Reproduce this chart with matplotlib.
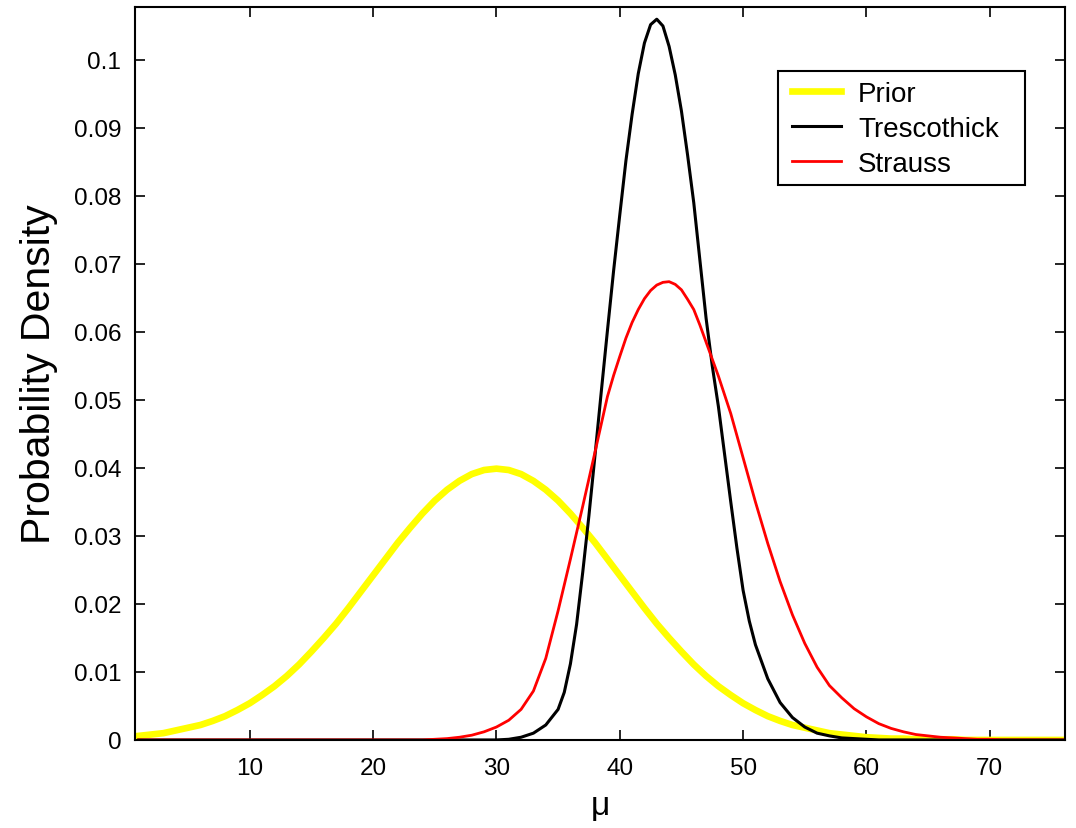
import numpy as np
import matplotlib
matplotlib.use("Agg")
import matplotlib.pyplot as plt
from matplotlib.patches import Rectangle

plt.rcParams["font.family"] = ["Liberation Sans", "DejaVu Sans"]

# --- data ----------------------------------------------------------------------
# prior: mu = 1..76
mu_prior = np.arange(1, 77)
prior = [0.0006, 0.0008, 0.0010, 0.0014, 0.0018, 0.0022, 0.0028, 0.0035, 0.0044, 0.0054,
         0.0066, 0.0079, 0.0094, 0.0111, 0.0130, 0.0150, 0.0171, 0.0194, 0.0218, 0.0242,
         0.0266, 0.0290, 0.0312, 0.0333, 0.0352, 0.0368, 0.0381, 0.0391, 0.0397, 0.0399,
         0.0397, 0.0391, 0.0381, 0.0368, 0.0352, 0.0333, 0.0312, 0.0290, 0.0266, 0.0242,
         0.0218, 0.0194, 0.0171, 0.0150, 0.0130, 0.0111, 0.0094, 0.0079, 0.0066, 0.0054,
         0.0044, 0.0035, 0.0028, 0.0022, 0.0018, 0.0014, 0.0010, 0.0008, 0.0006, 0.0004,
         0.0003, 0.0002, 0.0002, 0.0001, 0.0001, 0.0001, 0.0001, 0.0, 0.0, 0.0,
         0.0, 0.0, 0.0, 0.0, 0.0, 0.0]

# Trescothick: finer readings (every 0.5) around the peak
mu_tres = np.concatenate([np.arange(1, 36), np.arange(35.5, 51.5, 0.5), np.arange(52, 77)])
trescothick = [0.0] * 30 + [0.0001, 0.0004, 0.0010, 0.0022, 0.0045,
         0.0070, 0.0112, 0.0170, 0.0247, 0.0330, 0.0420, 0.0512, 0.0602, 0.0690, 0.0772,
         0.0852, 0.0920, 0.0980, 0.1025, 0.1052, 0.1060, 0.1050, 0.1020, 0.0978, 0.0925,
         0.0860, 0.0790, 0.0705, 0.0620, 0.0550, 0.0490, 0.0420, 0.0350, 0.0282, 0.0220,
         0.0175, 0.0140,
         0.0090, 0.0055, 0.0033, 0.0019, 0.0010, 0.0006, 0.0003, 0.0002, 0.0001,
         0.0, 0.0, 0.0, 0.0, 0.0, 0.0, 0.0, 0.0, 0.0, 0.0, 0.0, 0.0, 0.0, 0.0, 0.0, 0.0]

# Strauss: finer readings (every 0.5) around the peak
mu_str = np.concatenate([np.arange(1, 40), np.arange(39.5, 48.5, 0.5), np.arange(49, 77)])
strauss = [0.0] * 24 + [0.0001, 0.0002, 0.0004, 0.0007, 0.0012, 0.0019,
         0.0029, 0.0045, 0.0072, 0.0120, 0.0190, 0.0266, 0.0344, 0.0424, 0.0505,
         0.0536, 0.0564, 0.0591, 0.0614, 0.0633, 0.0649, 0.0661, 0.0669, 0.0673, 0.0674,
         0.0670, 0.0662, 0.0648, 0.0633, 0.0610, 0.0585, 0.0560, 0.0535,
         0.0480, 0.0415, 0.0350, 0.0289, 0.0233, 0.0184, 0.0142, 0.0107, 0.0080, 0.0062,
         0.0046, 0.0034, 0.0024, 0.0017, 0.0012, 0.0008, 0.0006, 0.0004, 0.0003, 0.0002,
         0.0001, 0.0001, 0.0, 0.0, 0.0, 0.0, 0.0, 0.0]

xticks = [10, 20, 30, 40, 50, 60, 70]
yticks = [0, 0.01, 0.02, 0.03, 0.04, 0.05, 0.06, 0.07, 0.08, 0.09, 0.1]
ytick_labels = ["0", "0.01", "0.02", "0.03", "0.04", "0.05", "0.06", "0.07", "0.08", "0.09", "0.1"]

# --- figure -------------------------------------------------------------------
fig = plt.figure(figsize=(10.76, 8.29), dpi=100)
ax = fig.add_axes([0.1255, 0.1062, 0.8643, 0.8842])

ax.plot(mu_prior, prior, color="#ffff00", lw=4.8, label="Prior")
ax.plot(mu_tres, trescothick, color="black", lw=2.2, label="Trescothick")
ax.plot(mu_str, strauss, color="#ff0000", lw=2.0, label="Strauss")

ax.set_xlim(0.7, 76.1)
ax.set_ylim(0, 0.1078)
ax.set_xticks(xticks)
ax.set_yticks(yticks)
ax.set_yticklabels(ytick_labels)
ax.tick_params(direction="in", length=7, width=1.2, labelsize=17.5,
               top=True, right=True, color="black")
ax.tick_params(axis="y", pad=10)
ax.tick_params(axis="x", pad=12)
for s in ax.spines.values():
    s.set_linewidth(1.5)

ax.set_ylabel("Probability Density", fontsize=29.5, labelpad=11)
ax.set_xlabel("\u03bc", fontsize=24, labelpad=8)

# legend: MATLAB-style box drawn separately, entries placed inside it
box = Rectangle((0.6914, 0.7572), 0.2656, 0.1555, transform=ax.transAxes,
                facecolor="white", edgecolor="black", lw=1.5, zorder=4)
ax.add_patch(box)
leg = ax.legend(loc="upper left", bbox_to_anchor=(0.7065, 0.8993), borderaxespad=0,
                borderpad=0, fontsize=20, frameon=False, handlelength=1.76,
                handletextpad=0.62, labelspacing=0.33)
leg.set_zorder(5)

fig.savefig("out.png", dpi=100)
